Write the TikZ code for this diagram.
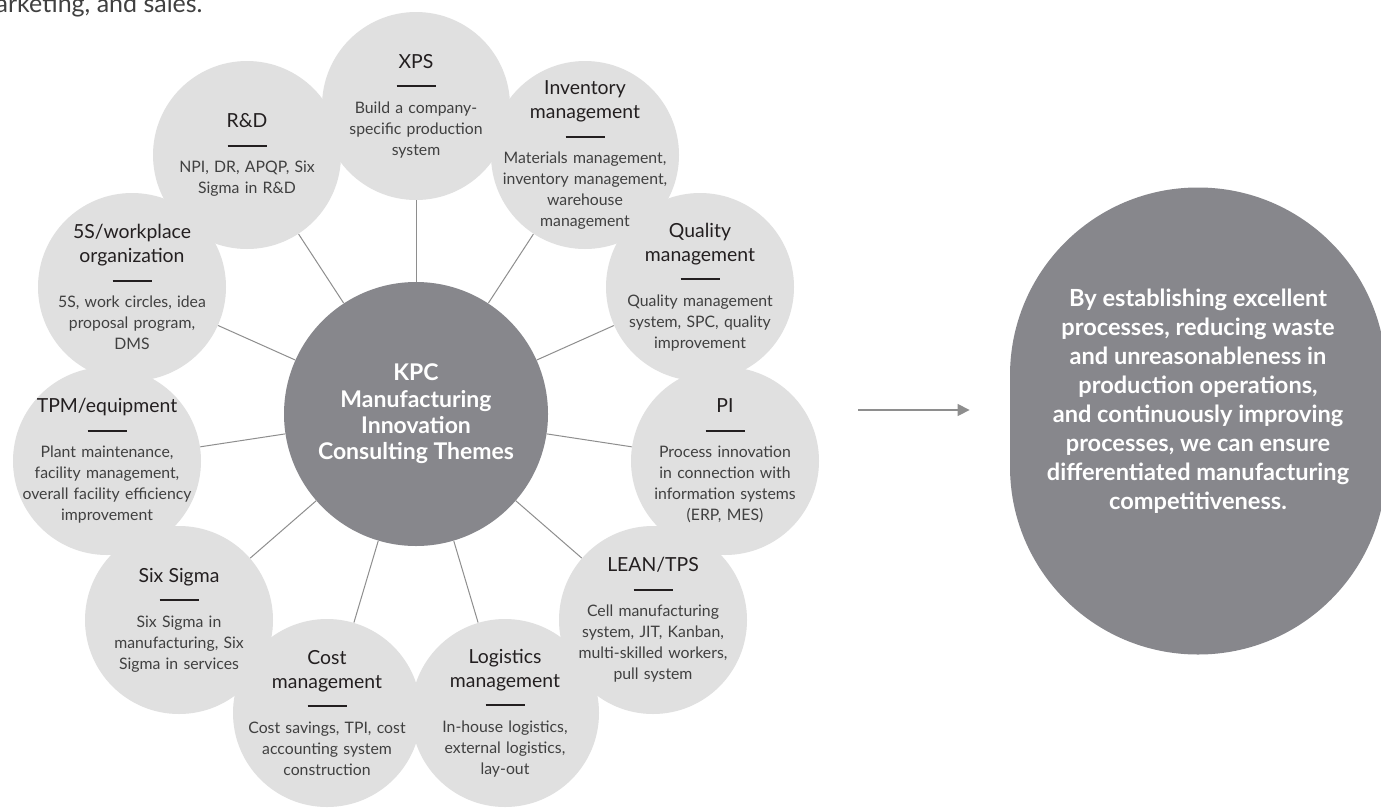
\documentclass[tikz,border=0pt]{standalone}
\usepackage{fontspec}
\setmainfont{Lato}
\usetikzlibrary{arrows.meta}

\definecolor{discgray}{HTML}{E0E0E0}
\definecolor{hubgray}{HTML}{87878C}
\definecolor{linegray}{HTML}{8E8E8E}
\definecolor{inkgray}{HTML}{231F20}
\definecolor{bodygray}{HTML}{404040}

% title, short bar, description
\newcommand{\topic}[2]{\centering
  {\fontsize{9.7}{12}\selectfont\leavevmode\color{inkgray}#1\par}%
  \vspace{-1pt}\leavevmode{\color{inkgray}\rule{19.5pt}{1pt}}\par\vspace{2.5pt}#2\par}

\tikzset{
  themetext/.style={text width=100pt, text=bodygray, inner sep=0pt,
    font=\fontsize{7.9}{10.5}\selectfont},
  hub/.style={circle, fill=hubgray, minimum size=132pt, inner sep=0pt, text=white,
    align=center, font=\bfseries\fontsize{11.5}{13.2}\selectfont},
  goalshape/.style={rectangle, rounded corners=93.9pt, fill=hubgray, inner sep=0pt,
    minimum width=188pt, minimum height=233.5pt},
  goaltext/.style={text=white, align=center, font=\bfseries\fontsize{11.8}{14.5}\selectfont},
  flow/.style={-{Triangle[length=6pt,width=6pt]}, draw=linegray, line width=0.65pt},
}

\begin{document}
\begin{tikzpicture}[x=0.5pt,y=-0.5pt]

        \path[fill=white, use as bounding box] (0,0) rectangle (1381,809);
        \clip (0,0) rectangle (1381,809);

        \node[anchor=base east, inner sep=0pt, text=bodygray, font=\fontsize{12.5}{14}\selectfont] (lead) at (203,12) {marketing, and sales.};

        \begin{scope}[every node/.style={circle, fill=discgray, minimum size=94pt, inner sep=0pt}]
          \node (1)  at (416,106) {};
          \node (2)  at (585,155) {};
          \node (3)  at (700,287) {};
          \node (4)  at (725,461) {};
          \node (5)  at (653,620) {};
          \node (6)  at (505,713) {};
          \node (7)  at (327,713) {};
          \node (8)  at (179,620) {};
          \node (9)  at (107,461) {};
          \node (10) at (132,287) {};
          \node (11) at (247,155) {};
        \end{scope}

        \node[hub] (kpc) at (416,414) {KPC\\Manufacturing\\Innovation\\Consulting Themes};

        \begin{scope}[every edge/.style={draw, linegray, line width=0.5pt}]
          \path (kpc) edge (1);
          \path (kpc) edge (2);
          \path (kpc) edge (3);
          \path (kpc) edge (4);
          \path (kpc) edge (5);
          \path (kpc) edge (6);
          \path (kpc) edge (7);
          \path (kpc) edge (8);
          \path (kpc) edge (9);
          \path (kpc) edge (10);
          \path (kpc) edge (11);
        \end{scope}

        \begin{scope}[every node/.style={themetext}]
          \node (t1)  at (1)  {\topic{XPS}{Build a company-\\specific production\\system}};
          \node (t2)  at (2)  {\topic{Inventory\\management}{Materials management,\\inventory management,\\warehouse\\management}};
          \node (t3)  at (3)  {\topic{Quality\\management}{Quality management\\system, SPC, quality\\improvement}};
          \node (t4)  at (4)  {\topic{PI}{Process innovation\\in connection with\\information systems\\(ERP, MES)}};
          \node (t5)  at (5)  {\topic{LEAN/TPS}{Cell manufacturing\\system, JIT, Kanban,\\multi-skilled workers,\\pull system}};
          \node (t6)  at (6)  {\topic{Logistics\\management}{In-house logistics,\\external logistics,\\lay-out}};
          \node (t7)  at (7)  {\topic{Cost\\management}{Cost savings, TPI, cost\\accounting system\\construction}};
          \node (t8)  at (8)  {\topic{Six Sigma}{Six Sigma in\\manufacturing, Six\\Sigma in services}};
          \node (t9)  at (9)  {\topic{TPM/equipment}{Plant maintenance,\\facility management,\\overall facility efficiency\\improvement}};
          \node (t10) at (10) {\topic{5S/workplace\\organization}{5S, work circles, idea\\proposal program,\\DMS}};
          \node (t11) at (11) {\topic{R\&D}{NPI, DR, APQP, Six\\Sigma in R\&D}};
        \end{scope}

        \node[goalshape] (goal) at (1198,421) {};
        \node[goaltext] (claim) at ([yshift=10pt]goal.center) {By establishing excellent\\processes, reducing waste\\and unreasonableness in\\production operations,\\and continuously improving\\processes, we can ensure\\differentiated manufacturing\\competitiveness.};

        \coordinate (tail) at (858,410);
        \draw[flow, shorten >=20pt] (tail) -- (tail -| goal.west);

      \end{tikzpicture}
\end{document}
